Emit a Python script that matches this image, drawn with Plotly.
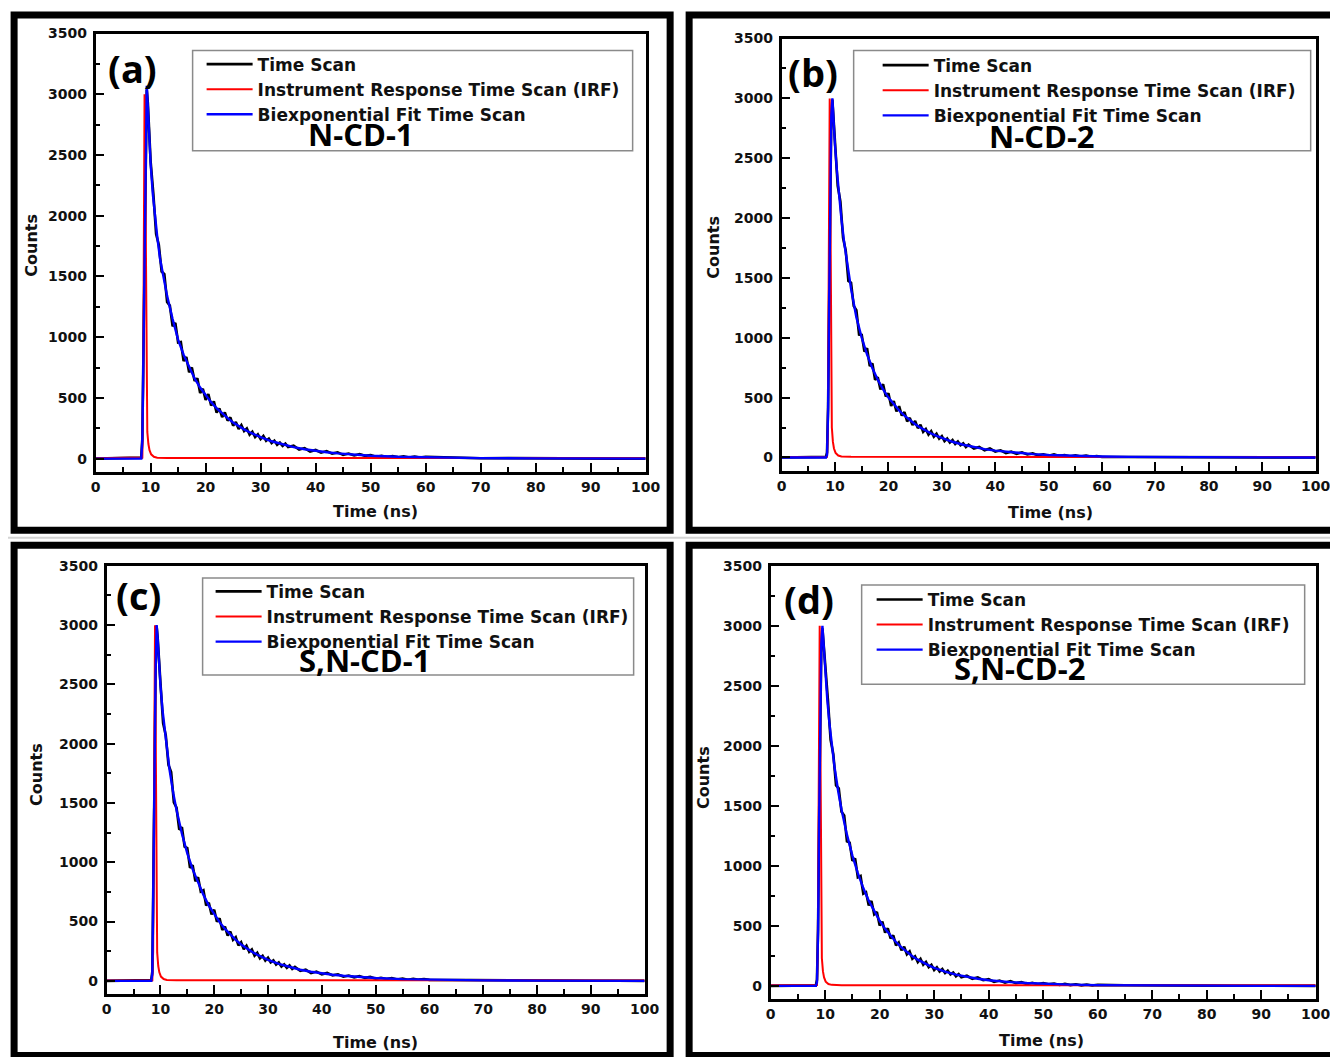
import plotly.graph_objects as go

W, H = 1338, 1057
# measured placement of the figure inside the photographed window
SX, OX = 0.985, 12.4
SY, OY = 0.990, 16.5

# ---------------- data ----------------
t_fit = [0, 8.0, 8.3, 8.5, 8.7, 8.9, 9.1, 9.3, 9.5, 9.7, 10.0, 10.4, 10.8, 11.2, 11.7, 12.4,
         13, 14, 15, 16, 17, 18, 19, 20, 21, 22, 23, 24, 25, 26, 27, 28, 29, 30, 32, 34, 36,
         38, 40, 42, 44, 47, 50, 55, 60, 65, 70, 80, 90, 100]
fit_a = [0, 0, 0, 150, 900, 1800, 2700, 3070, 2900, 2700, 2430, 2180, 1990, 1830, 1650, 1470,
         1340, 1150, 980, 855, 750, 660, 585, 520, 465, 415, 372, 333, 298, 268, 241, 217, 196, 177, 143, 116, 94,
         77, 63, 52, 43, 32, 24, 15, 10, 6, 4, 2, 1, 0]
fit_b = [0, 0, 0, 20, 400, 1300, 2200, 2850, 3000, 2820, 2600, 2370, 2170, 1990, 1800, 1575,
         1410, 1170, 1000, 860, 745, 650, 568, 500, 442, 392, 349, 311, 278, 249, 223, 200, 180, 162, 131, 106, 86,
         70, 57, 47, 38, 28, 21, 13, 8, 5, 3, 1, 1, 0]
fit_c = [0, 0, 0, 60, 700, 1700, 2600, 3000, 2880, 2720, 2500, 2280, 2110, 1960, 1780, 1580,
         1440, 1240, 1075, 940, 825, 725, 635, 560, 495, 438, 388, 345, 307, 274, 245, 220, 197, 177, 143, 116, 94,
         77, 63, 52, 43, 32, 24, 15, 10, 6, 4, 2, 1, 0]
fit_d = [0, 0, 0, 30, 450, 1400, 2300, 2850, 3000, 2860, 2620, 2380, 2180, 2010, 1830, 1620,
         1470, 1260, 1085, 940, 815, 710, 620, 542, 475, 416, 365, 320, 281, 247, 218, 192, 170, 150, 118, 93, 74,
         59, 47, 38, 31, 23, 17, 10, 6, 4, 2, 1, 0, 0]

t_scan = [0, 8.0, 8.3, 8.5, 8.7, 8.9, 9.1, 9.3, 9.5, 9.7, 10.0,
          10.5, 11.0, 11.5, 12.0, 12.5, 13.0, 13.5, 14.0, 14.5, 15.0, 15.5, 16.0, 16.5, 17.0, 17.5,
          18.0, 18.5, 19.0, 19.5, 20.0, 20.5, 21.0, 21.5, 22.0, 22.5, 23.0, 23.5, 24.0, 24.5, 25.0,
          25.5, 26.0, 26.5, 27.0, 27.5, 28.0, 28.5, 29.0, 29.5, 30.0, 30.5, 31.0, 31.5, 32.0, 32.5,
          33.0, 33.5, 34.0, 34.5, 35.0,
          36, 37, 38, 39, 40, 41, 42, 43, 44, 45, 46, 47, 48, 49, 50, 51, 52, 53, 54, 55, 56, 57,
          58, 59, 60,
          65, 70, 75, 80, 85, 90, 95, 100]
scan_a = [0, 2, 8, 170, 930, 1830, 2690, 3040, 2930, 2670, 2450,
          2180, 1850, 1760, 1540, 1520, 1290, 1260, 1090, 1118, 956, 960, 803, 836, 710, 751,
          640, 661, 541, 575, 484, 531, 437, 471, 379, 413, 342, 380, 313, 339, 272,
          301, 244, 276, 227, 249, 197, 222, 178, 200, 161, 186, 147, 165, 129, 148,
          113, 132, 104, 124, 95,
          106, 75, 87, 58, 71, 49, 62, 41, 51, 31, 42, 26, 37, 23, 30, 16, 24, 14, 22, 11, 18, 9,
          16, 9, 14,
          7, 3, 4, 2, 2, 1, 0, 0]
scan_b = [0, 1, 5, 40, 420, 1330, 2230, 2860, 2990, 2830, 2590,
          2270, 2140, 1835, 1730, 1475, 1460, 1265, 1230, 1026, 1024, 884, 912, 764, 785, 648,
          670, 568, 612, 509, 536, 430, 470, 384, 428, 350, 379, 301, 331, 270, 304,
          245, 273, 214, 237, 191, 220, 174, 198, 157, 178, 136, 158, 124, 145, 112,
          134, 102, 118, 87, 106,
          74, 88, 60, 75, 49, 60, 37, 48, 30, 43, 25, 34, 18, 27, 15, 25, 13, 19, 8, 17, 8, 15,
          6, 11, 4,
          4, 4, 1, 1, 0, 1, 0, 0]
scan_c = [0, 2, 6, 80, 720, 1690, 2620, 2990, 2890, 2700, 2520,
          2175, 2070, 1820, 1760, 1505, 1460, 1275, 1296, 1131, 1119, 953, 976, 840, 873, 753,
          765, 636, 659, 561, 600, 498, 527, 429, 458, 382, 416, 346, 369, 299, 325,
          266, 296, 245, 265, 212, 236, 190, 211, 171, 195, 156, 173, 137, 155, 120,
          139, 110, 130, 100, 117,
          84, 95, 65, 78, 55, 67, 46, 55, 35, 45, 30, 40, 25, 33, 18, 26, 16, 24, 12, 19, 10, 17,
          10, 15, 8,
          6, 5, 2, 3, 1, 1, 1, 0]
scan_d = [0, 2, 4, 50, 470, 1420, 2310, 2840, 2980, 2870, 2640,
          2390, 2050, 1930, 1670, 1645, 1450, 1420, 1204, 1194, 1041, 1062, 904, 915, 767, 780,
          670, 707, 596, 616, 502, 535, 443, 480, 396, 420, 337, 362, 296, 326, 263,
          287, 225, 246, 198, 225, 176, 199, 156, 176, 132, 154, 120, 140, 106, 127,
          95, 111, 79, 98, 71,
          84, 58, 71, 47, 55, 32, 44, 26, 39, 22, 31, 15, 25, 13, 23, 12, 18, 7, 16, 6, 13, 4,
          10, 3, 8,
          5, 2, 1, 2, 1, 1, 0, 0]

t_irf = [0, 8.3, 8.5, 8.65, 8.8, 8.9, 9.0, 9.1, 9.2, 9.3, 9.4, 9.6, 9.8, 10.1, 10.6, 11.2, 13, 100]
irf_a = [4, 4, 10, 600, 2200, 3000, 2900, 2000, 1000, 400, 220, 120, 70, 35, 15, 8, 5, 4]
irf_b = [4, 4, 5, 200, 1500, 2700, 3000, 2300, 1200, 500, 250, 130, 75, 38, 16, 8, 5, 4]
irf_c = [4, 4, 6, 250, 1600, 2750, 3000, 2250, 1150, 480, 240, 125, 72, 36, 15, 8, 5, 4]
irf_d = [4, 4, 6, 300, 1700, 2800, 3000, 2200, 1100, 450, 230, 120, 70, 35, 15, 8, 5, 4]

panel_letters = ["(a)", "(b)", "(c)", "(d)"]
sample_names = ["N-CD-1", "N-CD-2", "S,N-CD-1", "S,N-CD-2"]
series_names = ["Time Scan", "Instrument Response Time Scan (IRF)", "Biexponential Fit Time Scan"]
x_ticks = [0, 10, 20, 30, 40, 50, 60, 70, 80, 90, 100]
y_ticks = [0, 500, 1000, 1500, 2000, 2500, 3000, 3500]

# ---------------- layout (pixel geometry of the window) ----------------
def px(x):
    return ((x - OX) / SX) / W

def py(y):
    return 1 - ((y - OY) / SY) / H

panels = [
    dict(scan=scan_a, irf=irf_a, fit=fit_a, box=(95, 645, 34, 471), ymin=-107,
         frame=(13.5, 669.5, 15.5, 529.5), leg_box=(192, 632, 51, 151), leg_at=(201, 47),
         letter_at=(132, 68), name_at=(360, 134), ytitle_at=(30, 245), xtitle_at=(375, 511)),
    dict(scan=scan_b, irf=irf_b, fit=fit_b, box=(781, 1315, 39, 470), ymin=-110,
         frame=(688.5, 1350, 15.5, 529.5), leg_box=(853, 1310, 51, 151), leg_at=(877, 48),
         letter_at=(812, 72), name_at=(1041, 136), ytitle_at=(712, 247), xtitle_at=(1050, 512)),
    dict(scan=scan_c, irf=irf_c, fit=fit_c, box=(106, 644, 565, 992), ymin=-110,
         frame=(13.5, 669.5, 544.5, 1053.5), leg_box=(202, 633, 577, 674), leg_at=(210, 573),
         letter_at=(138, 594), name_at=(364, 659), ytitle_at=(36, 773), xtitle_at=(375, 1040)),
    dict(scan=scan_d, irf=irf_d, fit=fit_d, box=(770, 1315, 565, 997), ymin=-109,
         frame=(688.5, 1350, 544.5, 1053.5), leg_box=(861, 1304, 584, 683), leg_at=(871, 581),
         letter_at=(808, 598), name_at=(1019, 667), ytitle_at=(703, 776), xtitle_at=(1041, 1038)),
]

FONT = "DejaVu Sans"
TXT = "#111111"
fig = go.Figure()
shapes, annotations = [], []
layout = {}

shapes.append(dict(type="line", xref="paper", yref="paper", x0=px(0), x1=px(1345),
                   y0=py(537), y1=py(537), line=dict(color="#d4d4d4", width=2)))

for i, p in enumerate(panels):
    n = i + 1
    sfx = "" if n == 1 else str(n)
    xa, ya, leg = "x" + sfx, "y" + sfx, "legend" + sfx
    colors = ["#000000", "#ff0000", "#0000ff"]
    widths = [2.6, 2.0, 2.4]
    xs = [t_scan, t_irf, t_fit]
    ys = [p["scan"], p["irf"], p["fit"]]
    for k in range(3):
        fig.add_trace(go.Scatter(x=xs[k], y=ys[k], mode="lines", name=series_names[k],
                                 line=dict(color=colors[k], width=widths[k]),
                                 xaxis=xa, yaxis=ya, legend=leg, showlegend=True))
    x0, x1, y0, y1 = p["box"]
    common = dict(showline=True, linecolor="black", linewidth=2.5, mirror=True,
                  ticks="inside", ticklen=9, tickwidth=2, tickcolor="black",
                  showgrid=False, zeroline=False,
                  tickfont=dict(family=FONT, size=14, color=TXT, weight="bold"))
    layout["xaxis" + sfx] = dict(common, domain=[px(x0), px(x1)], anchor=ya, range=[0, 100],
                                 tickmode="array", tickvals=x_ticks, ticklabelstandoff=1,
                                 minor=dict(ticks="inside", ticklen=5, tickwidth=2,
                                            tickcolor="black", dtick=5, showgrid=False))
    layout["yaxis" + sfx] = dict(common, domain=[py(y1), py(y0)], anchor=xa,
                                 range=[p["ymin"], 3500], tickmode="array", tickvals=y_ticks,
                                 ticklabelstandoff=3,
                                 minor=dict(ticks="inside", ticklen=5, tickwidth=2,
                                            tickcolor="black", dtick=250, showgrid=False))
    lx, ly = p["leg_at"]
    layout[leg] = dict(x=px(lx), y=py(ly), xanchor="left", yanchor="top",
                       bgcolor="rgba(0,0,0,0)", borderwidth=0, itemwidth=46,
                       tracegroupgap=0, traceorder="normal",
                       font=dict(family=FONT, size=17, color=TXT, weight="bold"))
    fx0, fx1, fy0, fy1 = p["frame"]
    shapes.append(dict(type="rect", xref="paper", yref="paper", x0=px(fx0), x1=px(fx1),
                       y0=py(fy1), y1=py(fy0), line=dict(color="black", width=7)))
    bx0, bx1, by0, by1 = p["leg_box"]
    shapes.append(dict(type="rect", xref="paper", yref="paper", x0=px(bx0), x1=px(bx1),
                       y0=py(by1), y1=py(by0), line=dict(color="#8a8a8a", width=1.5)))
    ax_, ay_ = p["letter_at"]
    annotations.append(dict(text=panel_letters[i], x=px(ax_), y=py(ay_), xref="paper", yref="paper",
                            showarrow=False, xanchor="center", yanchor="middle",
                            font=dict(family="Open Sans", size=38, color="black", weight="bold")))
    nx_, ny_ = p["name_at"]
    annotations.append(dict(text=sample_names[i], x=px(nx_), y=py(ny_), xref="paper", yref="paper",
                            showarrow=False, xanchor="center", yanchor="middle",
                            font=dict(family="Open Sans", size=31, color="black", weight="bold")))
    tx, ty = p["ytitle_at"]
    annotations.append(dict(text="Counts", x=px(tx), y=py(ty), xref="paper", yref="paper",
                            showarrow=False, textangle=-90, xanchor="center", yanchor="middle",
                            font=dict(family=FONT, size=16, color=TXT, weight="bold")))
    tx, ty = p["xtitle_at"]
    annotations.append(dict(text="Time (ns)", x=px(tx), y=py(ty), xref="paper", yref="paper",
                            showarrow=False, xanchor="center", yanchor="middle",
                            font=dict(family=FONT, size=16, color=TXT, weight="bold")))

fig.update_layout(width=W, height=H, margin=dict(l=0, r=0, t=0, b=0),
                  paper_bgcolor="white", plot_bgcolor="white",
                  shapes=shapes, annotations=annotations, **layout)
fig.write_html("out.html", config={"displayModeBar": False})
